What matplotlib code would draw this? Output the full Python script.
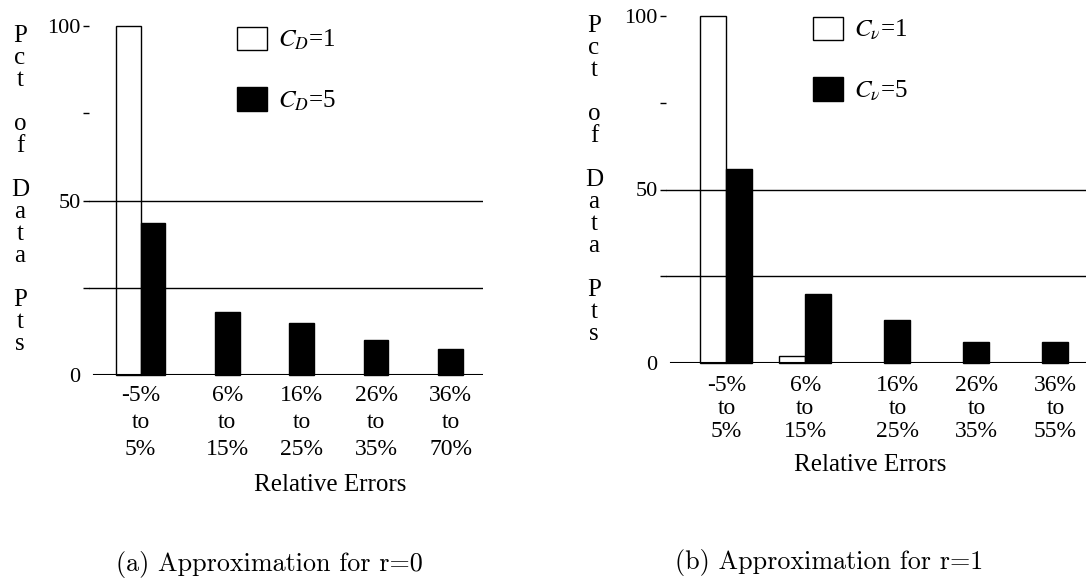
import matplotlib
matplotlib.use('Agg')
import matplotlib.pyplot as plt
import numpy as np

# ─────────────────────────────────────────
# DATA  (percent of data points per relative-error bucket)
# ─────────────────────────────────────────

bins_r0 = ['-5%\nto\n5%', '6%\nto\n15%', '16%\nto\n25%', '26%\nto\n35%', '36%\nto\n70%']
bins_r1 = ['-5%\nto\n5%', '6%\nto\n15%', '16%\nto\n25%', '26%\nto\n35%', '36%\nto\n55%']

pct_r0_c1 = [100, 0, 0, 0, 0]
pct_r0_c5 = [43.5, 18, 15, 10, 7.5]

pct_r1_c1 = [100, 2, 0, 0, 0]
pct_r1_c5 = [56, 20, 12.5, 6, 6]

legend_r0 = [r'$C_D$=1', r'$C_D$=5']
legend_r1 = [r'$C_\nu$=1', r'$C_\nu$=5']

y_ticks = [0, 25, 50, 75, 100]
y_ticklabels = ['0', '', '50', '', '100']

ylabel_letters = list('Pct') + [''] + list('of') + [''] + list('Data') + [''] + list('Pts')

# ─────────────────────────────────────────
# STYLE
# ─────────────────────────────────────────

plt.rcParams['font.family'] = ['Liberation Serif', 'DejaVu Serif']
plt.rcParams['mathtext.fontset'] = 'stix'

W, H = 1088, 580
fig = plt.figure(figsize=(W / 100, H / 100), dpi=100)

BAR_W = 0.33


def px_rect(left, right, top, bottom):
    return [left / W, 1 - bottom / H, (right - left) / W, (bottom - top) / H]


def draw_panel(ax, labels, c1, c5, leg_labels, xlim, lab_spacing, lab_pad, leg_anchor):
    x = np.arange(len(labels))
    c1 = np.asarray(c1, dtype=float)
    c5 = np.asarray(c5, dtype=float)

    # thin reference lines sit behind the solid bars but show through the open ones
    for yv in (25, 50):
        ax.axhline(yv, color='black', lw=1.0, zorder=1)
    ax.axhline(0, xmin=0.012, color='black', lw=1.5, zorder=4)

    # empty buckets get no open bar at all
    has1 = c1 > 0
    b1 = ax.bar(x[has1] - BAR_W / 2, c1[has1], BAR_W, facecolor='none', edgecolor='black',
                lw=1.0, zorder=3, clip_on=False, label=leg_labels[0])
    b5 = ax.bar(x + BAR_W / 2, c5, BAR_W, facecolor='black', edgecolor='black',
                lw=1.0, zorder=3, clip_on=False, label=leg_labels[1])

    ax.set_xlim(*xlim)
    ax.set_ylim(0, 100)

    # centre each label under whatever bars are visible in that group
    tick_pos = np.where(has1, x, x + BAR_W / 2)
    ax.set_xticks(tick_pos)
    ax.set_xticklabels(labels, fontsize=17, linespacing=lab_spacing)
    ax.tick_params(axis='x', length=0, pad=lab_pad)

    ax.set_yticks(y_ticks)
    ax.set_yticklabels(y_ticklabels, fontsize=16)
    ax.tick_params(axis='y', length=4.5, width=1.0, pad=1.5, direction='out')
    ax.yaxis.get_major_ticks()[0].tick1line.set_visible(False)

    for s in ax.spines.values():
        s.set_visible(False)

    # open box legend handle needs a white face to read as a square
    leg = ax.legend(handles=[b1, b5], loc='upper left', bbox_to_anchor=leg_anchor,
                    frameon=False, fontsize=18, handlelength=1.2, handleheight=1.05,
                    handletextpad=0.42, labelspacing=1.4, borderpad=0, borderaxespad=0)
    leg.legend_handles[0].set_facecolor('white')


# ─────────────────────────────────────────
# PANEL (a) — r = 0
# ─────────────────────────────────────────

ax_a = fig.add_axes(px_rect(89, 483, 26, 375))
draw_panel(ax_a, bins_r0, pct_r0_c1, pct_r0_c5, legend_r0,
           xlim=(-0.693, 4.60), lab_spacing=1.39, lab_pad=7.0,
           leg_anchor=(0.376, 0.997))

# ─────────────────────────────────────────
# PANEL (b) — r = 1
# ─────────────────────────────────────────

ax_b = fig.add_axes(px_rect(666, 1086, 16, 363))
draw_panel(ax_b, bins_r1, pct_r1_c1, pct_r1_c5, legend_r1,
           xlim=(-0.765, 4.552), lab_spacing=1.14, lab_pad=8.5,
           leg_anchor=(0.35, 0.997))

# stacked y-axis titles
ylab = '\n'.join(ylabel_letters)
fig.text(20 / W, 1 - 190 / H, ylab, ha='center', va='center', fontsize=18, linespacing=1.0)
fig.text(594 / W, 1 - 179.5 / H, ylab, ha='center', va='center', fontsize=18, linespacing=1.0)

fig.text(330 / W, 1 - 485 / H, 'Relative Errors', ha='center', va='center', fontsize=18)
fig.text(870 / W, 1 - 465 / H, 'Relative Errors', ha='center', va='center', fontsize=18)

# sub-figure captions in the LaTeX roman face
cap_font = ['cmr10', 'DejaVu Serif']
fig.text(269.5 / W, 1 - 565 / H, '(a) Approximation for r=0', ha='center', va='center',
         fontsize=18.8, family=cap_font)
fig.text(829 / W, 1 - 563 / H, '(b) Approximation for r=1', ha='center', va='center',
         fontsize=18.8, family=cap_font)

fig.savefig('out.png', dpi=100)
